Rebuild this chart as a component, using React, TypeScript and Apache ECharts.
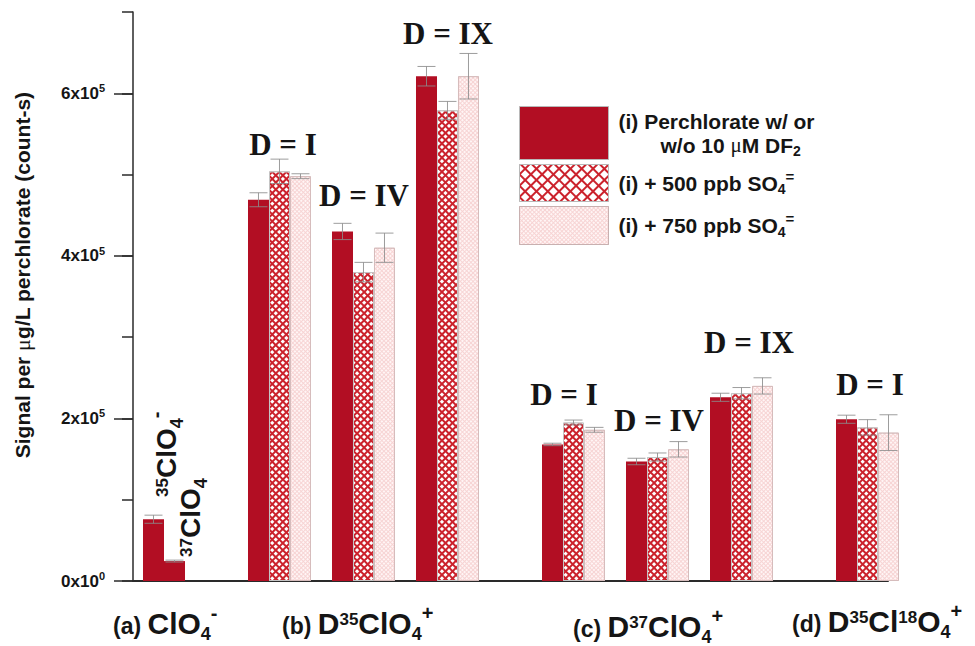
import React, { useEffect, useRef } from 'react';
import * as echarts from 'echarts';

// ---------------- data ----------------
const seriesNames = ['(i) Perchlorate w/ or w/o 10 μM DF2', '(i) + 500 ppb SO4=', '(i) + 750 ppb SO4='];
const groupLabels = ['D = I', 'D = IV', 'D = IX', 'D = I', 'D = IV', 'D = IX', 'D = I'];
// slot index (one slot = one bar width) of the first bar of each group
const groupFirstSlot = [5, 9, 13, 19, 23, 27, 33];
const perchlorate = [469000, 430000, 621000, 168000, 147000, 226000, 199000];
const perchlorateErr = [8600, 10000, 12000, 1500, 4000, 5000, 5000];
const plus500 = [504000, 380000, 579000, 195000, 152500, 231000, 189000];
const plus500Err = [15000, 12000, 11000, 3000, 5000, 7000, 9500];
const plus750 = [498000, 410000, 621000, 186000, 162000, 240000, 182500];
const plus750Err = [3000, 18000, 28000, 3000, 9500, 10000, 22000];
const clo4Slot = [0, 1];
const clo4 = [76000, 24500];
const clo4Err = [5000, 1200];
const yMajorTicks = [0, 200000, 400000, 600000];
const yMax = 700000;
const yStep = 100000;

// ---------------- style / layout ----------------
const SANS = '"Liberation Sans", Arial, Helvetica, sans-serif';
const SERIF = '"Liberation Serif", "Times New Roman", serif';
const INK = '#151515';
const SOLID_RED = '#b20e23';
const HATCH_RED = '#cb222c';
const ERR = 'rgba(140,140,140,0.85)';

const dLabelPos = [[283, 144], [364, 195], [448, 33], [564, 394], [659, 420], [749, 342], [870, 384]];
const panelPos = [[113, 623], [282, 623], [573, 626], [792, 621]];
const panelText = [
  '{p|(a) }{big|ClO}{sub|4}{chg|-}',
  '{p|(b) }{big|D}{iso|35}{big|ClO}{sub|4}{chg|+}',
  '{p|(c) }{big|D}{iso|37}{big|ClO}{sub|4}{chg|+}',
  '{p|(d) }{big|D}{iso|35}{big|Cl}{iso|18}{big|O}{sub|4}{chg|+}',
];
const clo4LabelPos = [[166, 497], [190, 557]];
const clo4LabelText = ['{iso|35}{big|ClO}{sub|4}{chg|-}', '{iso|37}{big|ClO}{sub|4}'];

const tok = (size: number, lh: number, pad: number[] | undefined, family = SANS, weight = 'bold') => ({
  fontFamily: family, fontWeight: weight, fontSize: size, lineHeight: lh, padding: pad, fill: INK, color: INK,
});

const panelRich = {
  p: tok(23, 24, [6, 0, 0, 0]),
  big: tok(30, 30, [0, 0, 0, 0]),
  iso: tok(17, 22, [0, 0, 8, 0]),
  sub: tok(18, 8, [22, 0, 0, 0]),
  chg: tok(20, 10, [0, 0, 20, 0]),
};

const clo4Rich = {
  big: tok(28, 30, [0, 0, 0, 0]),
  iso: tok(17, 22, [0, 0, 8, 0]),
  sub: tok(18, 8, [22, 0, 0, 0]),
  chg: tok(20, 10, [0, 0, 20, 0]),
};

const legendRich = {
  b: tok(21, 24, [0, 0, 0, 0]),
  ind: tok(21, 24, [0, 0, 0, 42]),
  mu: tok(21, 24, [0, 0, 0, 0], SERIF, 'normal'),
  sub: tok(14, 12, [12, 0, 0, 0]),
  sup: tok(15, 10, [0, 0, 14, 0]),
};

const hatchDecal = {
  symbol: 'rect', symbolSize: 1, color: '#ffffff', backgroundColor: HATCH_RED,
  dashArrayX: [3, 2], dashArrayY: [3, 2], rotation: Math.PI / 4,
};
const hatchLegendDecal = { ...hatchDecal, dashArrayX: [6, 2], dashArrayY: [6, 2] };
const lightDecal = {
  symbol: 'rect', symbolSize: 1, color: '#fff5f5', backgroundColor: '#f2b8b8',
  dashArrayX: [2, 1], dashArrayY: [2, 1], rotation: Math.PI / 4,
};

const slotsAt = (off: number) => groupFirstSlot.map((s) => s + off + 0.5);
const pairs = (xs: number[], ys: number[]) => xs.map((x, i) => [x, ys[i]]);
const triples = (xs: number[], ys: number[], es: number[]) => xs.map((x, i) => [x, ys[i], es[i]]);

const renderErr = (_params: any, api: any) => {
  const x = api.value(0);
  const v = api.value(1);
  const e = api.value(2);
  const top = api.coord([x, v + e]);
  const bot = api.coord([x, v - e]);
  const hw = 9;
  const style = { stroke: ERR, lineWidth: 1 };
  return {
    type: 'group',
    children: [
      { type: 'line', shape: { x1: top[0], y1: top[1], x2: bot[0], y2: bot[1] }, style },
      { type: 'line', shape: { x1: top[0] - hw, y1: top[1], x2: top[0] + hw, y2: top[1] }, style },
      { type: 'line', shape: { x1: bot[0] - hw, y1: bot[1], x2: bot[0] + hw, y2: bot[1] }, style },
    ],
  };
};

const errSeries = (data: number[][]) => ({
  type: 'custom', renderItem: renderErr, data, encode: { x: 0, y: 1 }, z: 6, silent: true, clip: false,
});

const barBase = { type: 'bar', barWidth: 21, barGap: '-100%', clip: false, z: 2, silent: true };

const yLabelFmt = (v: number) => (v === 0 ? '{n|0x10}{s|0}' : `{n|${v / 100000}x10}{s|5}`);

const option: any = {
  animation: false,
  backgroundColor: '#ffffff',
  grid: { left: 133, right: 87, top: 12, bottom: 65, containLabel: false },
  xAxis: {
    type: 'value', min: -0.476, max: 35.476,
    axisLine: { show: true, onZero: false, lineStyle: { color: '#2a2a2a', width: 2 } },
    axisTick: { show: false }, axisLabel: { show: false }, splitLine: { show: false },
  },
  yAxis: [
    {
      type: 'value', min: 0, max: yMax, interval: yStep, position: 'left',
      axisLine: { show: true, onZero: false, lineStyle: { color: '#2a2a2a', width: 1.5 } },
      axisTick: { show: true, length: 11, lineStyle: { color: '#2a2a2a', width: 1.5 } },
      axisLabel: { show: false }, splitLine: { show: false },
    },
    {
      type: 'value', min: 0, max: yMax, interval: yStep, position: 'left',
      axisLine: { show: false, onZero: false },
      axisTick: { show: true, length: 19, customValues: yMajorTicks, lineStyle: { color: '#2a2a2a', width: 1.5 } },
      axisLabel: {
        show: true, customValues: yMajorTicks, margin: 28,
        formatter: (v: number) => (v % 200000 === 0 ? yLabelFmt(v) : ''),
        rich: {
          n: { fontFamily: SANS, fontWeight: 'bold', fontSize: 17, lineHeight: 18, color: INK },
          s: { fontFamily: SANS, fontWeight: 'bold', fontSize: 11, lineHeight: 8, padding: [0, 0, 10, 0], color: INK },
        },
      },
      splitLine: { show: false },
    },
  ],
  legend: [
    {
      data: [seriesNames[0]], left: 519, top: 106, padding: 0, itemWidth: 89, itemHeight: 53, icon: 'rect',
      selectedMode: false, itemStyle: { borderColor: '#b8b8b8', borderWidth: 1 },
      formatter: () => '{b|(i) Perchlorate w/ or}\n{ind|w/o 10 }{mu|μ}{b|M DF}{sub|2}',
      textStyle: { padding: [0, 0, 0, 5], rich: legendRich },
    },
    {
      data: [seriesNames[1]], left: 519, top: 164, padding: 0, itemWidth: 89, itemHeight: 37, icon: 'rect',
      selectedMode: false, itemStyle: { borderColor: '#b8b8b8', borderWidth: 1, decal: hatchLegendDecal },
      formatter: () => '{b|(i) + 500 ppb SO}{sub|4}{sup|=}',
      textStyle: { padding: [0, 0, 0, 5], rich: legendRich },
    },
    {
      data: [seriesNames[2]], left: 519, top: 206, padding: 0, itemWidth: 89, itemHeight: 38, icon: 'rect',
      selectedMode: false, itemStyle: { borderColor: '#c8b0b0', borderWidth: 1 },
      formatter: () => '{b|(i) + 750 ppb SO}{sub|4}{sup|=}',
      textStyle: { padding: [0, 0, 0, 5], rich: legendRich },
    },
  ],
  series: [
    { ...barBase, name: seriesNames[0], data: pairs(slotsAt(0), perchlorate), itemStyle: { color: SOLID_RED } },
    {
      ...barBase, name: seriesNames[1], data: pairs(slotsAt(1), plus500),
      itemStyle: { color: HATCH_RED, decal: hatchDecal, borderColor: '#c4c4c4', borderWidth: 1 },
    },
    {
      ...barBase, name: seriesNames[2], data: pairs(slotsAt(2), plus750),
      itemStyle: { color: '#f7d4d4', decal: lightDecal, borderColor: '#d6bcbc', borderWidth: 1 },
    },
    { ...barBase, name: 'ClO4-', data: pairs(clo4Slot.map((s) => s + 0.5), clo4), itemStyle: { color: SOLID_RED } },
    errSeries(triples(slotsAt(0), perchlorate, perchlorateErr)),
    errSeries(triples(slotsAt(1), plus500, plus500Err)),
    errSeries(triples(slotsAt(2), plus750, plus750Err)),
    errSeries(triples(clo4Slot.map((s) => s + 0.5), clo4, clo4Err)),
  ],
  graphic: [
    ...groupLabels.map((t, i) => ({
      type: 'text', x: dLabelPos[i][0], y: dLabelPos[i][1], silent: true, z: 10,
      style: {
        text: t, fontFamily: SERIF, fontWeight: 'bold', fontSize: 31, fill: INK,
        align: 'center', verticalAlign: 'middle',
      },
    })),
    {
      type: 'text', x: 22, y: 275, rotation: Math.PI / 2, silent: true,
      style: {
        text: '{b|Signal per }{mu|μ}{b|g/L perchlorate (count-s)}',
        align: 'center', verticalAlign: 'middle', fill: INK,
        rich: { b: tok(21, 22, [0, 0, 0, 0]), mu: tok(22, 22, [0, 0, 0, 0], SERIF, 'normal') },
      },
    },
    ...clo4LabelText.map((t, i) => ({
      type: 'text', x: clo4LabelPos[i][0], y: clo4LabelPos[i][1], rotation: Math.PI / 2, silent: true, z: 10,
      style: { text: t, align: 'left', verticalAlign: 'middle', fill: INK, rich: clo4Rich },
    })),
    ...panelText.map((t, i) => ({
      type: 'text', x: panelPos[i][0], y: panelPos[i][1], silent: true,
      style: { text: t, align: 'left', verticalAlign: 'middle', fill: INK, rich: panelRich },
    })),
  ],
};

export default function App() {
  const ref = useRef<HTMLDivElement>(null);
  useEffect(() => {
    const el = ref.current;
    if (!el) return;
    const chart = echarts.init(el, null, { renderer: 'svg' });
    chart.setOption(option);
    return () => chart.dispose();
  }, []);
  return (
    <div
      ref={ref}
      style={{ position: 'absolute', left: 0, top: 0, width: 975, height: 646, background: '#fff' }}
    />
  );
}
